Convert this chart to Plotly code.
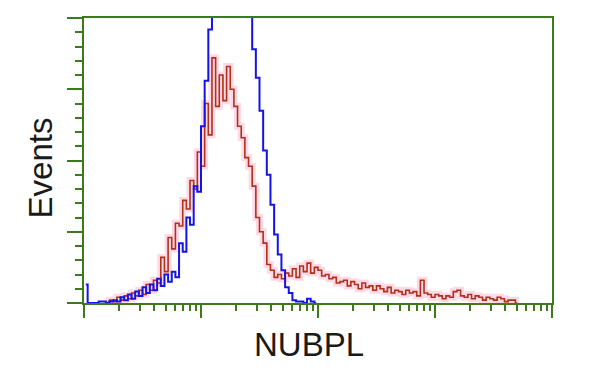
import plotly.graph_objects as go

# Histogram bins: 1024 log channels spanning 4 decades, grouped in bins of 8 channels
BIN_WIDTH = 8
CHANNELS_PER_DECADE = 256

# Control (blue) counts, starting at bin 0
blue_start_bin = 0
blue_counts = [13, 0, 0, 0, 1, 1, 0, 1, 2, 1,
               4, 2, 6, 3, 8, 5, 11, 7, 13, 9,
               17, 12, 20, 15, 22, 18, 42, 36, 60, 55,
               82, 78, 124, 156, 192, 230, 250, 270, 285, 292,
               295, 290, 275, 255, 232, 205, 178, 158, 135, 107,
               90, 69, 48, 34, 23, 11, 7, 2, 1, 1,
               0, 3, 1, 0]

# NUBPL stained (red) counts, starting at bin 6
red_start_bin = 6
red_counts = [1, 2, 1, 4, 2, 5, 3, 7, 5, 9,
              6, 13, 9, 16, 14, 32, 22, 46, 38, 56,
              54, 72, 66, 86, 80, 106, 96, 140, 118, 172,
              138, 160, 142, 166, 150, 138, 124, 116, 102, 96,
              82, 60, 50, 42, 27, 23, 18, 20, 17, 21,
              19, 24, 18, 26, 22, 28, 21, 25, 23, 19,
              20, 17, 18, 14, 15, 16, 12, 15, 13, 10,
              14, 11, 12, 9, 12, 10, 8, 11, 7, 9,
              8, 6, 9, 7, 8, 5, 16, 7, 6, 4,
              6, 5, 3, 5, 4, 8, 9, 5, 4, 6,
              3, 5, 4, 2, 4, 3, 2, 4, 3, 1,
              2, 2, 0]


def to_fluorescence(start_bin, counts):
    return [10 ** ((BIN_WIDTH * (start_bin + i) + BIN_WIDTH / 2) / CHANNELS_PER_DECADE)
            for i in range(len(counts))]


blue_x = to_fluorescence(blue_start_bin, blue_counts)
red_x = to_fluorescence(red_start_bin, red_counts)

GREEN = "#3c7a1c"
TITLE_FONT = dict(family="Liberation Sans, Arial, sans-serif", size=33, color="#1a1a1a")

fig = go.Figure()
# soft halo of the red trace
fig.add_trace(go.Scatter(x=red_x, y=red_counts, mode="lines", line_shape="hvh",
                         line=dict(color="rgba(255,170,200,0.45)", width=7),
                         hoverinfo="skip", showlegend=False))
fig.add_trace(go.Scatter(x=red_x, y=red_counts, mode="lines", line_shape="hvh",
                         line=dict(color="#b0301a", width=1.6), showlegend=False,
                         name="NUBPL"))
fig.add_trace(go.Scatter(x=blue_x, y=blue_counts, mode="lines", line_shape="hvh",
                         line=dict(color="#1414e6", width=2), showlegend=False,
                         name="Control"))

fig.update_layout(
    width=600, height=375,
    margin=dict(l=84, r=48, t=18, b=72),
    paper_bgcolor="white", plot_bgcolor="white",
    font=dict(family="Liberation Sans, Arial, sans-serif", color="#1a1a1a"),
    xaxis=dict(type="log", range=[0, 4], dtick=1, showticklabels=False,
               showgrid=False, zeroline=False,
               showline=True, linecolor=GREEN, linewidth=2, mirror=True,
               ticks="outside", ticklen=13, tickwidth=2, tickcolor=GREEN,
               minor=dict(ticks="outside", ticklen=6, tickwidth=2, tickcolor=GREEN,
                          dtick="D1", showgrid=False)),
    yaxis=dict(range=[0, 200], dtick=50, showticklabels=False,
               showgrid=False, zeroline=False,
               showline=True, linecolor=GREEN, linewidth=2, mirror=True,
               ticks="outside", ticklen=15, tickwidth=2, tickcolor=GREEN,
               minor=dict(ticks="outside", ticklen=7, tickwidth=2, tickcolor=GREEN,
                          dtick=10, showgrid=False)),
    annotations=[
        dict(text="NUBPL", xref="paper", yref="paper", x=0.481, y=-0.145,
             xanchor="center", yanchor="middle", showarrow=False, font=TITLE_FONT),
        dict(text="Events", xref="paper", yref="paper", x=-0.094, y=0.472,
             xanchor="center", yanchor="middle", showarrow=False, textangle=-90,
             font=TITLE_FONT),
    ],
)

fig.write_html("out.html")
